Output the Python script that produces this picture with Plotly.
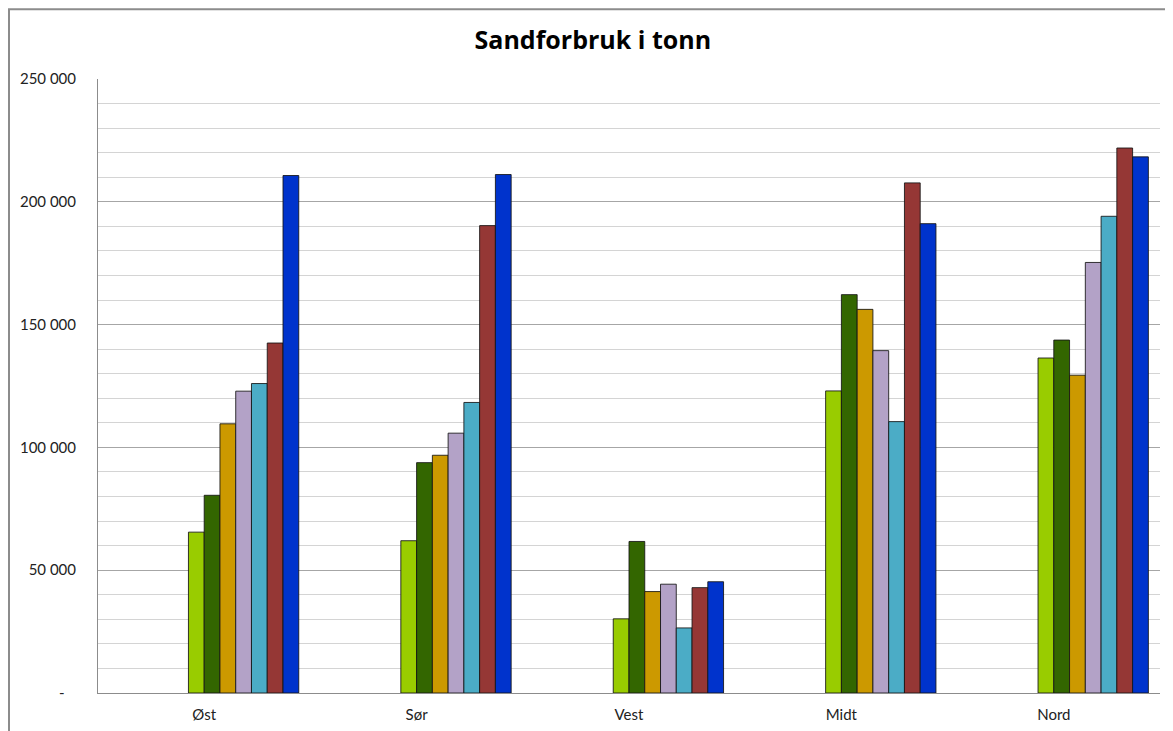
import plotly.graph_objects as go

# regions and the seven series (tonnes)
regions = ["Øst", "Sør", "Vest", "Midt", "Nord"]
serie_1 = [65500, 62000, 30200, 123000, 136400]
serie_2 = [80500, 93800, 61700, 162200, 143700]
serie_3 = [109600, 96800, 41300, 156200, 129400]
serie_4 = [122900, 105800, 44300, 139400, 175300]
serie_5 = [126000, 118300, 26500, 110500, 194100]
serie_6 = [142500, 190300, 42900, 207700, 221900]
serie_7 = [210700, 211100, 45300, 191100, 218300]
series_names = ["Serie 1", "Serie 2", "Serie 3", "Serie 4", "Serie 5", "Serie 6", "Serie 7"]
tick_vals = [0, 50000, 100000, 150000, 200000, 250000]
tick_text = ["-\u00a0\u00a0\u00a0", "50 000", "100 000", "150 000", "200 000", "250 000"]

colors = ["#99CC00", "#336600", "#CC9900", "#B3A2C7", "#4BACC6", "#953735", "#0033CC"]
all_series = [serie_1, serie_2, serie_3, serie_4, serie_5, serie_6, serie_7]

bar_w = 0.0742
fig = go.Figure()
for i, (name, vals) in enumerate(zip(series_names, all_series)):
    fig.add_trace(go.Bar(
        x=regions, y=vals, name=name,
        width=bar_w, offset=(i - 1) * bar_w,
        marker=dict(color=colors[i], line=dict(color="rgba(20,20,20,0.85)", width=1)),
    ))

# page body has an 8px margin, so the figure is a bit smaller than the window
fig.update_layout(
    width=1165, height=723,
    margin=dict(l=90, r=13, t=71, b=38),
    paper_bgcolor="white", plot_bgcolor="white",
    font=dict(family="Lato, Open Sans, sans-serif", size=14, color="#222"),
    showlegend=False,
    barmode="group",
    title=dict(text="<b>Sandforbruk i tonn</b>", x=0.502, xanchor="center",
               y=0.9557, yanchor="middle",
               font=dict(family="Open Sans, sans-serif", size=25, color="#000")),
    xaxis=dict(showline=True, linecolor="#8c8c8c", linewidth=1, ticks="",
               showgrid=False, tickfont=dict(size=15), ticklabelstandoff=8,
               automargin=False),
    yaxis=dict(range=[0, 250000], tickvals=tick_vals, ticktext=tick_text,
               showline=True, linecolor="#8c8c8c", linewidth=1, ticks="",
               gridcolor="#a6a6a6", gridwidth=1, zeroline=False,
               ticklabelstandoff=18, tickfont=dict(size=15), automargin=False,
               minor=dict(dtick=10000, showgrid=True, gridcolor="#d4d4d4", gridwidth=1)),
    # chart frame, only its left and top edges are visible
    shapes=[dict(type="rect", xref="paper", yref="paper",
                 x0=-0.0838, x1=1.1, y0=-0.2, y1=1.1135,
                 line=dict(color="#8c8c8c", width=2), layer="below")],
)

fig.write_html("out.html")
